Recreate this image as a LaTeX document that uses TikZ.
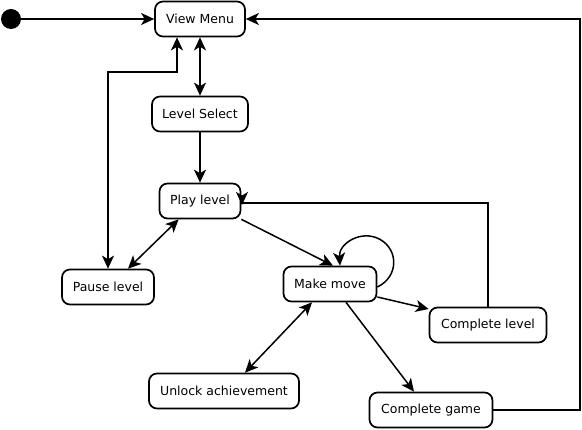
\documentclass[tikz,border=0pt]{standalone}
\usepackage{fontspec}
\setmainfont{DejaVu Sans}
\usetikzlibrary{arrows.meta,positioning}

\begin{document}
\begin{tikzpicture}[x=1pt,y=-1pt,
  state/.style={rectangle,rounded corners=8pt,draw,line width=1.7pt,minimum height=35pt,
    inner sep=0pt,font=\fontsize{12.5}{14}\selectfont},
  arr/.style={-{Stealth[length=13pt,width=12pt,inset=3.5pt]},line width=1.5pt},
  darr/.style={{Stealth[length=13pt,width=12pt,inset=3.5pt]}-{Stealth[length=13pt,width=12pt,inset=3.5pt]},line width=1.5pt}]
  \useasboundingbox (0,0) rectangle (582,430);
  \node[circle,fill,inner sep=0pt,minimum size=20pt] (start) at (11,19) {};
  \node[state,minimum width=90pt] (menu) at (200,19) {View Menu};
  \node[state,minimum width=96pt] (select) at (200,114) {Level Select};
  \node[state,minimum width=81pt] (play) at (200,201) {Play level};
  \node[state,minimum width=92pt] (pause) at (108,287) {Pause level};
  \node[state,minimum width=93pt] (move) at (330,284) {Make move};
  \node[state,minimum width=117pt] (clevel) at (488,325) {Complete level};
  \node[state,minimum width=150pt] (unlock) at (224,391) {Unlock achievement};
  \node[state,minimum width=123pt] (cgame) at (431,410) {Complete game};
  \coordinate (pk) at (177,72);
  \coordinate (rim) at (580,19);
  \coordinate (back) at (242,203);
  \draw[arr] (start) -- (menu);
  \draw[darr] (menu) -- (select);
  \draw[arr] (select) -- (play);
  \draw[darr] (pause.north) |- (pk) -- (pk |- menu.south);
  \draw[darr] (play.south west) ++(20,0) -- ([xshift=20pt]pause.north);
  \draw[arr] (play.south east) -- ([xshift=3pt]move.north);
  \draw[arr] ([yshift=-3pt]move.east) .. controls (398.8,276.8) and (398.7,249.8) .. (380,239.4)
    .. controls (361.3,229) and (338.5,243.6) .. ([xshift=10pt]move.north);
  \draw[arr] ([yshift=-13pt]move.east) -- ([yshift=16pt]clevel.west);
  \draw[arr] (clevel.north) |- (back) -- ++(0,2);
  \draw[darr] ([xshift=-18pt]move.south) -- ([xshift=21pt]unlock.north);
  \draw[arr] ([xshift=16pt]move.south) -- ([xshift=-17pt]cgame.north);
  \draw[arr] (cgame.east) -| (rim) -- (menu.east);
\end{tikzpicture}
\end{document}
